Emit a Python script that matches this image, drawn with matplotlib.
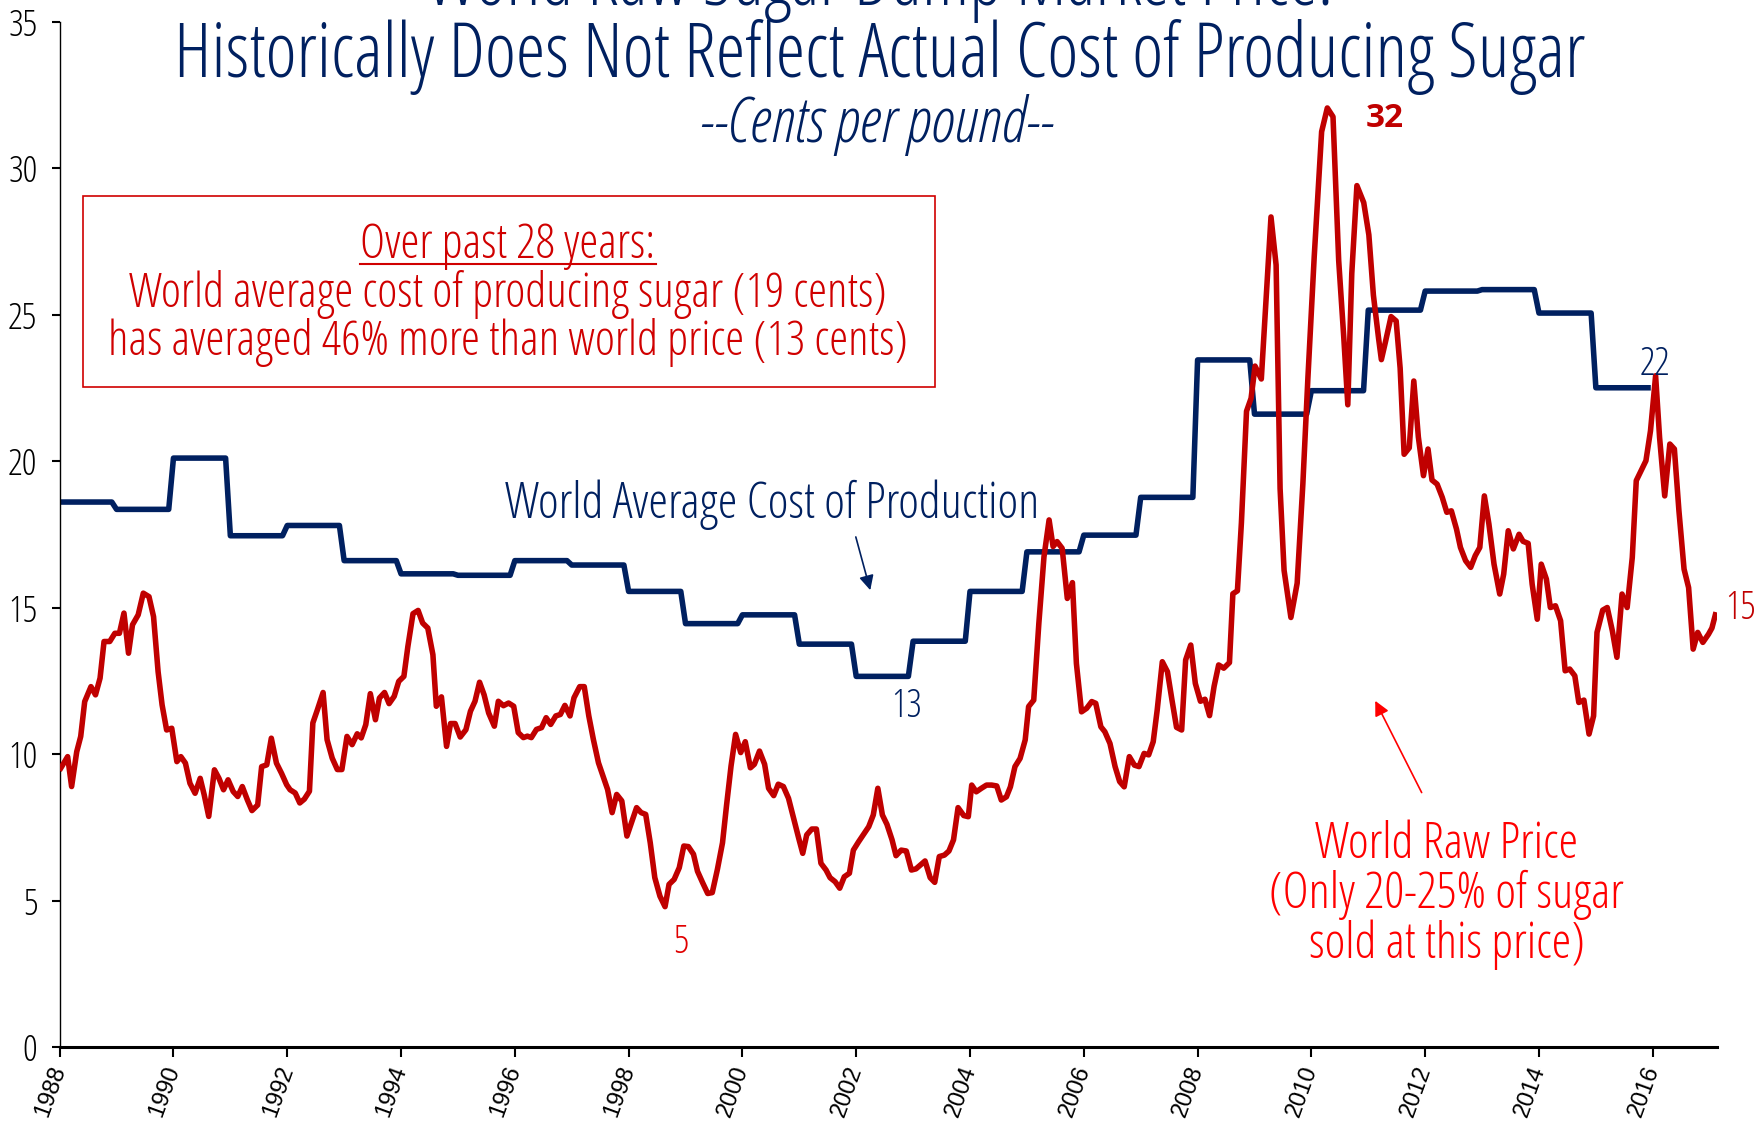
import matplotlib
matplotlib.use("Agg")
import matplotlib.pyplot as plt
from matplotlib import font_manager
from matplotlib.font_manager import FontProperties
from matplotlib.patches import Rectangle

NAVY   = "#002060"
RED    = "#C00000"
BRIGHT = "#FF0000"
BOXRED = "#D00000"

# world average cost of production, one value per year (cents/lb)
cost_years  = list(range(1988, 2016))
cost_values = [18.6, 18.35, 20.1, 17.45, 17.8, 16.6, 16.15, 16.1, 16.6, 16.45,
               15.55, 14.45, 14.75, 13.75, 12.65, 13.85, 15.55, 16.9, 17.47, 18.76,
               23.45, 21.6, 22.4, 25.15, 25.8, 25.85, 25.05, 22.5]

# world raw sugar price (cents/lb)
price_t = [
    1988.02, 1988.14, 1988.21, 1988.30, 1988.37, 1988.44, 1988.55, 1988.63, 1988.71, 1988.78,
    1988.88, 1988.97, 1989.05, 1989.13, 1989.21, 1989.28, 1989.38, 1989.47, 1989.57, 1989.65,
    1989.73, 1989.80, 1989.88, 1989.97, 1990.06, 1990.13, 1990.21, 1990.29, 1990.38, 1990.47,
    1990.54, 1990.62, 1990.72, 1990.80, 1990.88, 1990.96, 1991.05, 1991.13, 1991.21, 1991.30,
    1991.38, 1991.48, 1991.55, 1991.64, 1991.72, 1991.81, 1991.90, 1991.99,
    1992.05, 1992.14, 1992.22, 1992.30, 1992.39, 1992.45, 1992.53, 1992.63, 1992.70, 1992.79,
    1992.88, 1992.96, 1993.05, 1993.14, 1993.23, 1993.30, 1993.38, 1993.46, 1993.55, 1993.62,
    1993.71, 1993.79, 1993.88, 1993.96, 1994.05, 1994.12, 1994.21, 1994.30, 1994.38, 1994.47,
    1994.56, 1994.62, 1994.71, 1994.80, 1994.87, 1994.95, 1995.04, 1995.14, 1995.22, 1995.30,
    1995.38, 1995.46, 1995.54, 1995.64, 1995.71, 1995.80, 1995.89, 1995.98,
    1996.06, 1996.15, 1996.22, 1996.29, 1996.38, 1996.47, 1996.55, 1996.63, 1996.72, 1996.80,
    1996.88, 1996.97, 1997.04, 1997.14, 1997.22, 1997.30, 1997.38, 1997.47, 1997.55, 1997.63,
    1997.71, 1997.79, 1997.88, 1997.97, 1998.05, 1998.14, 1998.22, 1998.30, 1998.38, 1998.46,
    1998.55, 1998.64, 1998.71, 1998.80, 1998.89, 1998.97, 1999.05, 1999.14, 1999.21, 1999.30,
    1999.39, 1999.47, 1999.56, 1999.65, 1999.72, 1999.80, 1999.88, 1999.97,
    2000.05, 2000.14, 2000.21, 2000.30, 2000.39, 2000.46, 2000.55, 2000.63, 2000.72, 2000.81,
    2000.90, 2000.99, 2001.06, 2001.13, 2001.22, 2001.30, 2001.38, 2001.47, 2001.54, 2001.63,
    2001.71, 2001.79, 2001.88, 2001.95, 2002.04, 2002.13, 2002.22, 2002.30, 2002.38, 2002.46,
    2002.54, 2002.63, 2002.70, 2002.79, 2002.88, 2002.97, 2003.05, 2003.14, 2003.21, 2003.30,
    2003.38, 2003.46, 2003.55, 2003.63, 2003.71, 2003.79, 2003.89, 2003.97,
    2004.03, 2004.11, 2004.20, 2004.29, 2004.38, 2004.47, 2004.55, 2004.64, 2004.71, 2004.79,
    2004.88, 2004.97, 2005.03, 2005.12, 2005.21, 2005.30, 2005.39, 2005.46, 2005.53, 2005.62,
    2005.71, 2005.80, 2005.87, 2005.96, 2006.05, 2006.14, 2006.21, 2006.30, 2006.37, 2006.46,
    2006.55, 2006.63, 2006.71, 2006.80, 2006.89, 2006.97, 2007.06, 2007.14, 2007.22, 2007.29,
    2007.38, 2007.47, 2007.55, 2007.63, 2007.72, 2007.79, 2007.88, 2007.96,
    2008.05, 2008.13, 2008.21, 2008.29, 2008.37, 2008.46, 2008.56, 2008.62, 2008.70, 2008.77,
    2008.86, 2008.94, 2009.01, 2009.12, 2009.19, 2009.29, 2009.38, 2009.45, 2009.52, 2009.64,
    2009.75, 2009.85, 2009.94, 2010.05, 2010.18, 2010.28, 2010.38, 2010.48, 2010.57, 2010.64,
    2010.71, 2010.80, 2010.92, 2011.01, 2011.09, 2011.18, 2011.23, 2011.30, 2011.40, 2011.49,
    2011.56, 2011.63, 2011.72, 2011.80, 2011.88, 2011.97,
    2012.05, 2012.12, 2012.21, 2012.30, 2012.38, 2012.46, 2012.55, 2012.62, 2012.71, 2012.80,
    2012.88, 2012.96, 2013.04, 2013.12, 2013.21, 2013.31, 2013.38, 2013.46, 2013.55, 2013.65,
    2013.72, 2013.81, 2013.88, 2013.97, 2014.04, 2014.13, 2014.20, 2014.29, 2014.38, 2014.46,
    2014.54, 2014.63, 2014.70, 2014.79, 2014.88, 2014.96, 2015.02, 2015.12, 2015.20, 2015.29,
    2015.37, 2015.46, 2015.55, 2015.64, 2015.71, 2015.78, 2015.88, 2015.96, 2016.05, 2016.12,
    2016.21, 2016.30, 2016.38, 2016.46, 2016.55, 2016.63, 2016.71, 2016.79, 2016.88, 2016.98,
    2017.04, 2017.10,
]
price_v = [
    9.52, 9.91, 8.89, 10.08, 10.6, 11.79, 12.3, 12.02, 12.59, 13.84,
    13.84, 14.12, 14.12, 14.81, 13.44, 14.41, 14.75, 15.49, 15.37, 14.69,
    12.81, 11.68, 10.82, 10.88, 9.74, 9.91, 9.69, 9.0, 8.66, 9.17,
    8.61, 7.87, 9.46, 9.17, 8.78, 9.12, 8.72, 8.55, 8.89, 8.43,
    8.07, 8.26, 9.57, 9.63, 10.54, 9.69, 9.34, 8.95,
    8.78, 8.67, 8.33, 8.46, 8.73, 11.06, 11.51, 12.1, 10.49, 9.86,
    9.47, 9.47, 10.6, 10.32, 10.69, 10.55, 11.0, 12.06, 11.17, 11.91,
    12.1, 11.72, 11.97, 12.48, 12.65, 13.67, 14.79, 14.9, 14.47, 14.3,
    13.39, 11.63, 11.95, 10.26, 11.04, 11.04, 10.58, 10.83, 11.46, 11.8,
    12.45, 12.02, 11.4, 10.95, 11.8, 11.65, 11.74, 11.63,
    10.73, 10.56, 10.61, 10.56, 10.84, 10.9, 11.24, 11.01, 11.3, 11.35,
    11.66, 11.3, 11.92, 12.3, 12.3, 11.3, 10.5, 9.7, 9.25, 8.79,
    8.0, 8.62, 8.4, 7.2, 7.66, 8.17, 8.0, 7.94, 6.97, 5.78,
    5.15, 4.79, 5.55, 5.72, 6.12, 6.86, 6.84, 6.58, 6.0, 5.61,
    5.24, 5.27, 6.06, 6.97, 8.23, 9.59, 10.67, 10.05,
    10.42, 9.53, 9.65, 10.1, 9.65, 8.83, 8.58, 8.97, 8.89, 8.49,
    7.8, 7.12, 6.61, 7.24, 7.44, 7.44, 6.27, 6.04, 5.78, 5.64,
    5.42, 5.81, 5.93, 6.72, 7.0, 7.26, 7.52, 7.92, 8.83, 7.92,
    7.6, 7.07, 6.53, 6.72, 6.69, 6.04, 6.08, 6.23, 6.35, 5.78,
    5.62, 6.5, 6.55, 6.69, 7.07, 8.17, 7.9, 7.86,
    8.94, 8.71, 8.83, 8.94, 8.94, 8.91, 8.43, 8.54, 8.88, 9.57,
    9.85, 10.48, 11.62, 11.84, 14.46, 16.73, 17.99, 17.08, 17.25, 17.02,
    15.31, 15.85, 13.09, 11.44, 11.56, 11.79, 11.73, 10.93, 10.76, 10.36,
    9.57, 9.06, 8.88, 9.91, 9.62, 9.57, 10.02, 9.97, 10.42, 11.5,
    13.15, 12.81, 11.84, 10.91, 10.82, 13.21, 13.72, 12.41,
    11.8, 11.87, 11.31, 12.31, 13.04, 12.93, 13.12, 15.47, 15.57, 17.89,
    21.7, 22.14, 23.24, 22.8, 25.08, 28.33, 26.69, 19.06, 16.27, 14.66,
    15.83, 19.21, 22.88, 26.98, 31.24, 32.05, 31.75, 26.84, 24.2, 21.92,
    26.4, 29.4, 28.82, 27.72, 25.66, 24.2, 23.46, 24.05, 24.93, 24.78,
    23.17, 20.23, 20.45, 22.73, 20.82, 19.5,
    20.41, 19.35, 19.21, 18.76, 18.25, 18.3, 17.68, 17.05, 16.6, 16.37,
    16.77, 17.05, 18.81, 17.85, 16.48, 15.46, 16.14, 17.62, 17.0, 17.5,
    17.26, 17.19, 15.8, 14.6, 16.48, 15.97, 15.0, 15.06, 14.55, 12.84,
    12.9, 12.67, 11.76, 11.84, 10.68, 11.3, 14.15, 14.91, 15.0, 14.2,
    13.3, 15.46, 15.0, 16.71, 19.33, 19.61, 20.01, 21.03, 22.91, 20.8,
    18.81, 20.58, 20.41, 18.3, 16.31, 15.68, 13.58, 14.15, 13.81, 14.09,
    14.3, 14.75,
]

x_ticks = list(range(1988, 2017, 2))
y_ticks = [0, 5, 10, 15, 20, 25, 30, 35]

title_1  = "World Raw Sugar Dump Market Price:"
title_2  = "Historically Does Not Reflect Actual Cost of Producing Sugar"
subtitle = "--Cents per pound--"
box_head = "Over past 28 years:"
box_body = ["World average cost of producing sugar (19 cents)",
            "has averaged 46% more than world price (13 cents)"]
raw_note = ["World Raw Price", "(Only 20-25% of sugar", "sold at this price)"]

fig = plt.figure(figsize=(17.6, 11.21), dpi=100)
renderer = fig.canvas.get_renderer()

# the original uses a narrow sans face; pick the narrowest installed sans
# face and size it so the title is as wide as in the original
SANS = ("Liberation Sans", "DejaVu Sans", "Noto Sans", "Open Sans", "Roboto", "Lato", "Inter")
WIDTHS = ("Narrow", "Condensed", "SemiCondensed", "Semi Condensed",
          "ExtraCondensed", "Extra Condensed")
cands = [(n, "normal") for n in SANS]
for f in font_manager.fontManager.ttflist:
    for base in SANS:
        if f.name in [base + " " + w for w in WIDTHS]:
            cands.append((f.name, "normal"))
        elif f.name == base and "condensed" in str(f.stretch).lower():
            cands.append((f.name, "condensed"))
best, best_w = ("DejaVu Sans", "normal"), None
for fam, st in dict.fromkeys(cands):
    prop = FontProperties(family=fam, stretch=st, size=45)
    try:
        font_manager.findfont(prop, fallback_to_default=False)
    except Exception:
        continue
    w, _, _ = renderer.get_text_width_height_descent(title_2, prop, ismath=False)
    if best_w is None or w < best_w:
        best, best_w = (fam, st), w
FAM, STRETCH = best
SCALE = 1412.0 / best_w if best_w else 0.8


def nt(size, **kw):
    return dict(family=FAM, stretch=STRETCH, fontsize=size * SCALE, **kw)


ax = fig.add_axes([0.0339, 0.066, 0.9417, 0.9148])

# cost line: monthly data, flat within a year
cost_x, cost_y = [], []
for yr, v in zip(cost_years, cost_values):
    cost_x += [yr, yr + 11 / 12]
    cost_y += [v, v]
ax.plot(cost_x, cost_y, color=NAVY, lw=4.0, solid_joinstyle="round", zorder=2)
ax.plot(price_t, price_v, color=RED, lw=4.0, solid_joinstyle="round", zorder=3)

ax.set_xlim(1988, 2017.13)
ax.set_ylim(0, 35)
ax.set_xticks(x_ticks)
ax.set_xticklabels([str(t) for t in x_ticks], rotation=70, ha="right", va="center",
                   rotation_mode="anchor", fontsize=17, family="Liberation Sans")
ax.set_yticks(y_ticks)
ax.set_yticklabels([str(t) for t in y_ticks], **nt(22))
for s in ("top", "right"):
    ax.spines[s].set_visible(False)
ax.spines["bottom"].set_linewidth(2.2)
ax.spines["left"].set_linewidth(1.0)
ax.tick_params(axis="y", length=6, width=1.5, pad=10)
ax.tick_params(axis="x", length=7, width=1.5, pad=7)

# titles (first line sits partly above the page, as in the original)
fig.text(0.5, 0.9953, title_1, ha="center", va="baseline", color=NAVY, **nt(45))
fig.text(0.5, 0.9311, title_2, ha="center", va="baseline", color=NAVY, **nt(45))
fig.text(0.4977, 0.8733, subtitle, ha="center", va="baseline", color=NAVY,
         style="italic", **nt(37))

# note box
ax.add_patch(Rectangle((1988.41, 22.53), 2003.38 - 1988.41, 29.04 - 22.53,
                       fill=False, edgecolor=BOXRED, lw=1.2, zorder=4))
head = ax.text(1995.88, 27.35, box_head, ha="center", va="center", color=BOXRED, **nt(29))
ax.text(1995.88, 25.68, box_body[0], ha="center", va="center", color=BOXRED, **nt(29))
ax.text(1995.88, 24.03, box_body[1], ha="center", va="center", color=BOXRED, **nt(29))

# underline the heading
fig.canvas.draw()
bb = head.get_window_extent().transformed(ax.transData.inverted())
ax.plot([bb.x0, bb.x1], [bb.y0 + 0.2, bb.y0 + 0.2], color=BOXRED, lw=1.5)

# series labels
ax.text(2000.52, 18.5, "World Average Cost of Production", ha="center", va="center",
        color=NAVY, **nt(30))
ax.annotate("", xy=(2002.26, 15.5), xytext=(2001.98, 17.5),
            arrowprops=dict(arrowstyle="-|>", color=NAVY, lw=1.2, mutation_scale=22))
for i, line in enumerate(raw_note):
    ax.text(2012.38, 6.9 - 1.7 * i, line, ha="center", va="center", color=BRIGHT, **nt(30))
ax.annotate("", xy=(2011.1, 11.9), xytext=(2011.96, 8.6),
            arrowprops=dict(arrowstyle="-|>", color=BRIGHT, lw=1.2, mutation_scale=22))

# value callouts
ax.text(2011.28, 31.7, "32", ha="center", va="center", color=RED, fontweight="bold", **nt(20))
ax.text(2016.04, 23.28, "22", ha="center", va="center", color=NAVY, **nt(23))
ax.text(2017.55, 14.95, "15", ha="center", va="center", color=RED, **nt(23))
ax.text(2002.89, 11.6, "13", ha="center", va="center", color=NAVY, **nt(23))
ax.text(1998.92, 3.55, "5", ha="center", va="center", color="#E00000", **nt(23))

fig.savefig("out.png", dpi=100)
